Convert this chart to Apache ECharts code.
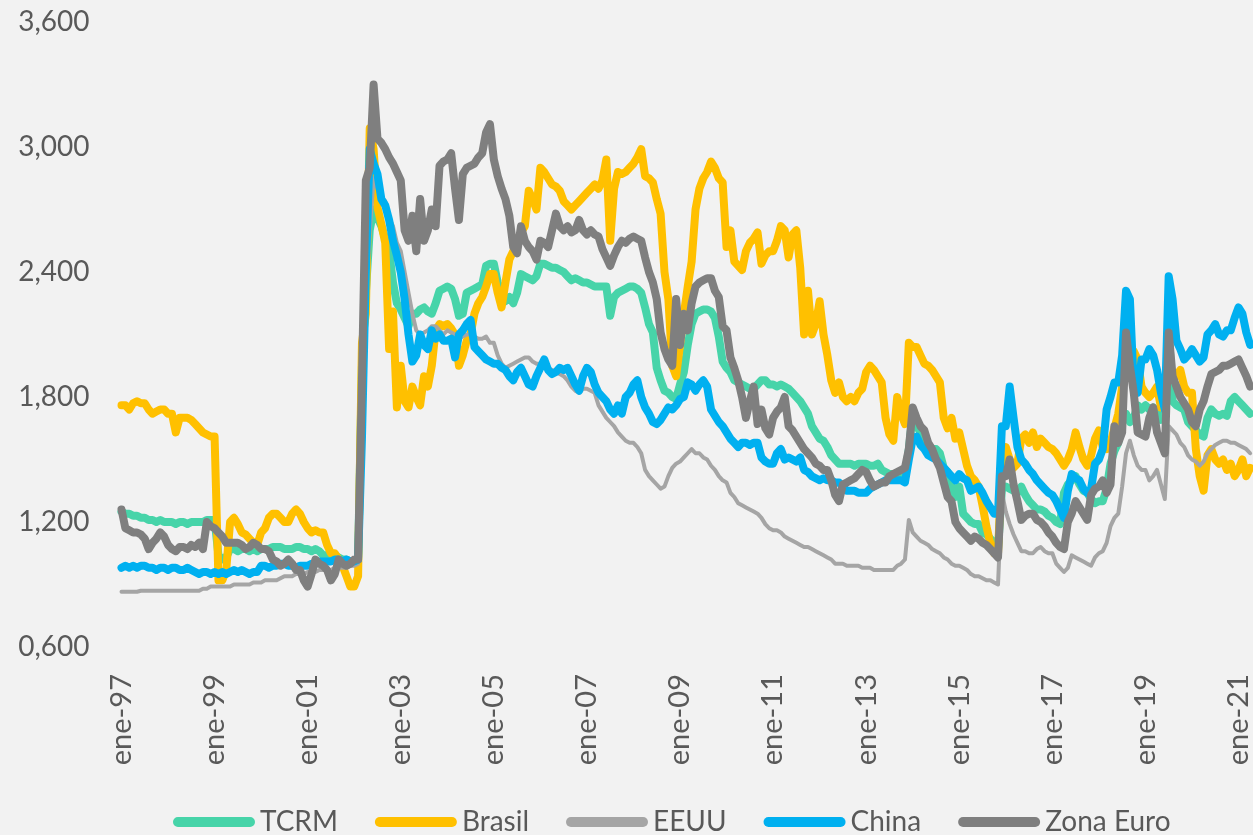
<!DOCTYPE html>
<html>
<head>
<meta charset="utf-8">
<script src="https://cdn.jsdelivr.net/npm/echarts@6/dist/echarts.min.js"></script>
<style>
html,body{margin:0;padding:0;background:#F2F2F2;}
#chart{width:1253px;height:835px;}
</style>
</head>
<body>
<div id="chart"></div>
<script>
// Months from ene-97 to abr-21 (monthly)
const monthNames = ['ene','feb','mar','abr','may','jun','jul','ago','sep','oct','nov','dic'];
const startYear = 1997;
const nMonths = 292;
const categories = [];
for (let i = 0; i < nMonths; i++) {
  const y = startYear + Math.floor(i / 12);
  categories.push(monthNames[i % 12] + '-' + String(y % 100).padStart(2, '0'));
}
const yTicks = [0.6, 1.2, 1.8, 2.4, 3.0, 3.6];

const seriesNames = ['TCRM', 'Brasil', 'EEUU', 'China', 'Zona Euro'];

const tcrm = [
1.25,1.24,1.24,1.23,1.23,1.22,1.22,1.21,1.21,1.20,1.21,1.20,
1.20,1.20,1.19,1.20,1.20,1.19,1.20,1.20,1.20,1.20,1.21,1.21,
1.21,1.04,1.02,1.03,1.07,1.07,1.06,1.07,1.07,1.06,1.07,1.06,
1.07,1.07,1.07,1.08,1.08,1.08,1.07,1.07,1.07,1.08,1.08,1.07,
1.07,1.06,1.07,1.06,1.04,1.04,1.03,1.04,1.03,1.02,1.02,1.01,
1.01,1.03,1.95,2.30,2.60,2.70,2.66,2.62,2.56,2.50,2.35,2.25,
2.22,2.18,2.14,2.20,2.20,2.22,2.23,2.21,2.20,2.25,2.31,2.32,
2.33,2.32,2.27,2.19,2.20,2.30,2.31,2.32,2.33,2.34,2.43,2.44,
2.44,2.35,2.28,2.26,2.28,2.25,2.30,2.39,2.38,2.37,2.36,2.38,
2.44,2.44,2.43,2.42,2.42,2.41,2.40,2.38,2.36,2.37,2.36,2.35,
2.35,2.34,2.33,2.33,2.33,2.33,2.19,2.28,2.30,2.31,2.32,2.33,
2.33,2.32,2.30,2.23,2.15,2.11,1.94,1.88,1.83,1.82,1.80,1.79,
1.86,1.92,2.05,2.15,2.20,2.21,2.22,2.22,2.21,2.18,2.09,1.97,
1.94,1.92,1.88,1.87,1.86,1.85,1.84,1.84,1.86,1.88,1.88,1.86,
1.86,1.85,1.86,1.85,1.84,1.82,1.80,1.78,1.75,1.72,1.66,1.63,
1.60,1.59,1.56,1.52,1.50,1.48,1.48,1.48,1.48,1.47,1.48,1.48,
1.48,1.47,1.47,1.48,1.45,1.44,1.43,1.43,1.43,1.42,1.42,1.55,
1.72,1.66,1.63,1.59,1.57,1.55,1.55,1.53,1.46,1.44,1.38,1.32,
1.37,1.24,1.22,1.20,1.19,1.19,1.15,1.14,1.12,1.10,1.07,1.36,
1.37,1.36,1.35,1.34,1.37,1.33,1.30,1.28,1.26,1.26,1.25,1.23,
1.22,1.20,1.19,1.34,1.38,1.40,1.42,1.38,1.35,1.34,1.31,1.29,
1.30,1.30,1.36,1.48,1.54,1.58,1.72,1.72,1.68,1.70,1.76,1.74,
1.76,1.74,1.75,1.72,1.69,1.75,2.14,1.78,1.76,1.75,1.74,1.68,
1.66,1.64,1.62,1.61,1.70,1.74,1.72,1.71,1.72,1.71,1.78,1.80,
1.78,1.76,1.74,1.72
];

const brasil = [
1.76,1.76,1.74,1.77,1.78,1.77,1.77,1.74,1.72,1.73,1.74,1.74,
1.72,1.72,1.63,1.70,1.70,1.70,1.69,1.67,1.65,1.63,1.62,1.61,
1.61,0.92,0.92,0.97,1.20,1.22,1.19,1.15,1.14,1.12,1.10,1.09,
1.15,1.17,1.22,1.24,1.24,1.22,1.20,1.20,1.24,1.26,1.24,1.20,
1.17,1.15,1.16,1.15,1.15,1.09,1.05,1.05,1.02,0.99,0.94,0.89,
0.89,0.94,2.06,2.20,3.09,2.99,2.71,2.63,2.54,2.03,2.21,1.75,
1.95,1.78,1.75,1.85,1.80,1.76,1.90,1.85,1.95,2.12,2.15,2.14,
2.15,2.13,2.10,1.95,2.00,2.07,2.10,2.20,2.25,2.28,2.33,2.39,
2.39,2.30,2.23,2.35,2.46,2.50,2.55,2.59,2.62,2.79,2.75,2.70,
2.90,2.88,2.85,2.82,2.81,2.79,2.74,2.72,2.70,2.72,2.74,2.76,
2.78,2.80,2.82,2.80,2.84,2.94,2.55,2.80,2.88,2.87,2.88,2.90,
2.92,2.95,2.99,2.86,2.85,2.83,2.75,2.68,2.40,2.27,1.95,1.90,
2.05,2.20,2.33,2.45,2.70,2.80,2.85,2.88,2.93,2.90,2.85,2.83,
2.52,2.60,2.45,2.43,2.41,2.50,2.54,2.56,2.59,2.44,2.48,2.50,
2.50,2.55,2.62,2.60,2.47,2.58,2.60,2.42,2.10,2.31,2.10,2.15,
2.26,2.10,2.00,1.88,1.82,1.87,1.80,1.78,1.80,1.78,1.82,1.84,
1.92,1.95,1.93,1.90,1.87,1.70,1.62,1.59,1.80,1.72,1.67,2.06,
2.04,2.04,2.00,1.96,1.95,1.93,1.90,1.87,1.70,1.65,1.70,1.60,
1.63,1.55,1.47,1.42,1.40,1.37,1.28,1.18,1.10,1.05,1.05,1.50,
1.56,1.50,1.46,1.48,1.60,1.62,1.58,1.63,1.56,1.60,1.58,1.56,
1.55,1.53,1.50,1.47,1.50,1.55,1.63,1.56,1.50,1.47,1.52,1.60,
1.64,1.56,1.55,1.58,1.65,1.72,1.85,1.95,1.98,2.02,1.98,1.85,
1.82,1.80,1.82,1.85,1.75,1.80,1.95,1.90,1.90,1.93,1.85,1.82,
1.82,1.55,1.42,1.35,1.52,1.55,1.50,1.48,1.50,1.45,1.48,1.42,
1.45,1.50,1.42,1.46
];

const eeuu = [
0.865,0.865,0.865,0.865,0.865,0.87,0.87,0.87,0.87,0.87,0.87,0.87,
0.87,0.87,0.87,0.87,0.87,0.87,0.87,0.87,0.87,0.88,0.88,0.89,
0.89,0.89,0.89,0.89,0.89,0.90,0.90,0.90,0.90,0.90,0.91,0.91,
0.91,0.92,0.92,0.92,0.92,0.93,0.94,0.94,0.94,0.95,0.95,0.95,
0.96,0.96,0.96,0.97,0.97,0.97,0.97,0.98,0.98,0.98,0.98,0.99,
0.99,1.00,1.90,2.30,2.60,2.85,2.80,2.76,2.74,2.66,2.62,2.54,
2.50,2.40,2.30,2.20,2.12,2.10,2.11,2.12,2.14,2.14,2.12,2.10,
2.12,2.11,2.10,2.08,2.09,2.10,2.10,2.09,2.08,2.08,2.09,2.06,
2.06,2.00,1.96,1.94,1.95,1.96,1.97,1.98,1.99,1.99,1.97,1.96,
1.96,1.95,1.94,1.93,1.92,1.91,1.90,1.88,1.85,1.83,1.82,1.84,
1.84,1.83,1.82,1.76,1.73,1.70,1.68,1.66,1.63,1.61,1.59,1.58,
1.58,1.56,1.53,1.45,1.42,1.40,1.38,1.36,1.37,1.42,1.46,1.48,
1.49,1.51,1.53,1.55,1.53,1.53,1.51,1.50,1.47,1.45,1.42,1.40,
1.39,1.34,1.32,1.29,1.28,1.27,1.26,1.25,1.24,1.22,1.19,1.17,
1.16,1.16,1.15,1.13,1.12,1.11,1.10,1.09,1.08,1.08,1.07,1.06,
1.05,1.04,1.03,1.02,1.00,1.00,1.00,0.99,0.99,0.99,0.99,0.98,
0.98,0.98,0.97,0.97,0.97,0.97,0.97,0.97,0.99,1.00,1.02,1.21,
1.15,1.13,1.11,1.10,1.09,1.07,1.06,1.05,1.03,1.02,1.00,0.99,
0.99,0.98,0.97,0.95,0.94,0.94,0.93,0.92,0.92,0.91,0.90,1.34,
1.25,1.19,1.14,1.10,1.06,1.06,1.05,1.05,1.07,1.08,1.06,1.05,
1.05,1.00,0.98,0.96,0.98,1.04,1.03,1.02,1.01,1.00,0.99,1.03,
1.05,1.06,1.10,1.18,1.22,1.24,1.37,1.53,1.59,1.52,1.47,1.45,
1.45,1.40,1.42,1.45,1.38,1.31,1.66,1.64,1.62,1.58,1.56,1.52,
1.50,1.49,1.47,1.49,1.53,1.55,1.57,1.58,1.59,1.59,1.58,1.58,
1.57,1.56,1.55,1.53
];

const china = [
0.98,0.99,0.98,0.99,0.98,0.99,0.99,0.98,0.98,0.97,0.98,0.98,
0.97,0.98,0.98,0.97,0.97,0.98,0.97,0.96,0.95,0.96,0.96,0.95,
0.96,0.95,0.96,0.95,0.96,0.97,0.96,0.97,0.96,0.95,0.96,0.96,
0.99,0.99,0.98,0.99,0.99,1.00,1.00,0.99,0.99,0.98,0.99,0.99,
0.99,1.00,1.00,1.01,1.01,1.01,1.01,1.02,1.02,1.01,1.02,1.01,
1.01,1.02,1.60,2.40,2.99,2.92,2.87,2.75,2.72,2.65,2.55,2.48,
2.40,2.27,2.10,1.97,2.00,2.10,2.05,2.03,2.12,2.08,2.10,2.07,
2.07,2.08,1.99,2.10,2.12,2.15,2.17,2.04,2.02,2.00,1.98,1.97,
1.96,1.96,1.94,1.93,1.90,1.88,1.92,1.94,1.90,1.86,1.85,1.90,
1.94,1.98,1.93,1.91,1.92,1.94,1.93,1.94,1.90,1.86,1.83,1.90,
1.94,1.92,1.86,1.82,1.80,1.78,1.74,1.72,1.76,1.72,1.80,1.82,
1.86,1.88,1.80,1.75,1.72,1.68,1.67,1.69,1.72,1.75,1.74,1.76,
1.79,1.80,1.87,1.86,1.83,1.86,1.88,1.85,1.74,1.71,1.68,1.66,
1.63,1.60,1.58,1.56,1.58,1.58,1.57,1.58,1.58,1.51,1.49,1.48,
1.48,1.53,1.55,1.50,1.51,1.50,1.49,1.51,1.45,1.44,1.42,1.41,
1.40,1.41,1.40,1.40,1.39,1.39,1.37,1.35,1.35,1.35,1.34,1.34,
1.34,1.36,1.37,1.38,1.39,1.40,1.40,1.40,1.40,1.40,1.39,1.50,
1.60,1.61,1.57,1.55,1.52,1.51,1.50,1.48,1.46,1.44,1.42,1.40,
1.43,1.41,1.40,1.35,1.36,1.37,1.34,1.30,1.27,1.24,1.24,1.66,
1.66,1.85,1.70,1.56,1.50,1.48,1.45,1.43,1.40,1.38,1.36,1.34,
1.33,1.30,1.26,1.22,1.35,1.43,1.41,1.40,1.36,1.34,1.36,1.48,
1.50,1.55,1.74,1.80,1.87,1.87,2.00,2.31,2.27,1.85,1.82,1.98,
1.98,2.03,2.00,1.93,1.82,1.74,2.38,2.27,2.07,2.03,1.98,2.00,
2.03,2.00,1.97,1.99,2.10,2.12,2.15,2.10,2.09,2.12,2.12,2.18,
2.23,2.20,2.11,2.05
];

const zonaEuro = [
1.26,1.17,1.16,1.15,1.15,1.14,1.12,1.07,1.10,1.12,1.15,1.13,
1.09,1.07,1.06,1.08,1.08,1.07,1.09,1.08,1.10,1.07,1.20,1.18,
1.17,1.15,1.13,1.10,1.10,1.10,1.10,1.09,1.07,1.08,1.10,1.09,
1.07,1.07,1.06,1.02,1.01,0.99,1.00,1.02,1.00,0.97,0.97,0.92,
0.89,0.95,1.02,1.00,0.99,0.97,0.92,0.95,1.02,1.00,0.99,1.00,
1.02,1.02,1.88,2.84,2.90,3.30,3.04,3.02,2.99,2.95,2.92,2.88,
2.84,2.60,2.55,2.67,2.50,2.75,2.55,2.60,2.70,2.62,2.91,2.93,
2.94,2.97,2.80,2.65,2.87,2.90,2.91,2.92,2.95,2.97,3.07,3.11,
2.94,2.86,2.80,2.75,2.67,2.52,2.49,2.62,2.55,2.52,2.50,2.46,
2.55,2.54,2.52,2.60,2.68,2.62,2.60,2.62,2.59,2.60,2.65,2.60,
2.58,2.60,2.58,2.57,2.51,2.47,2.43,2.48,2.52,2.55,2.54,2.56,
2.57,2.56,2.55,2.47,2.40,2.35,2.27,2.11,2.03,1.98,1.95,2.27,
2.05,2.20,2.12,2.25,2.33,2.35,2.36,2.37,2.37,2.31,2.28,2.14,
2.12,1.99,1.94,1.88,1.80,1.70,1.78,1.85,1.67,1.74,1.65,1.62,
1.70,1.73,1.75,1.80,1.66,1.64,1.61,1.58,1.55,1.53,1.51,1.48,
1.47,1.45,1.45,1.40,1.33,1.30,1.38,1.39,1.40,1.41,1.43,1.45,
1.44,1.40,1.37,1.38,1.39,1.39,1.42,1.43,1.44,1.45,1.46,1.55,
1.75,1.70,1.66,1.64,1.58,1.55,1.50,1.46,1.39,1.32,1.30,1.20,
1.17,1.15,1.13,1.11,1.13,1.12,1.10,1.09,1.07,1.05,1.03,1.42,
1.42,1.50,1.38,1.30,1.21,1.23,1.24,1.24,1.21,1.20,1.18,1.15,
1.13,1.10,1.08,1.07,1.20,1.24,1.30,1.27,1.24,1.21,1.33,1.36,
1.37,1.40,1.34,1.38,1.66,1.58,1.63,2.11,1.95,1.82,1.63,1.62,
1.61,1.70,1.75,1.63,1.58,1.53,2.11,1.90,1.85,1.80,1.77,1.74,
1.68,1.66,1.74,1.78,1.85,1.91,1.92,1.93,1.95,1.95,1.96,1.97,
1.98,1.94,1.90,1.85
];

const colors = ['#47D4A9', '#FFC000', '#A5A5A5', '#00B0F0', '#7F7F7F'];
const widths = [8, 8, 4, 8, 8];
const seriesData = [tcrm, brasil, eeuu, china, zonaEuro];

const textColor = '#595959';
const fontFamily = 'Lato, "Open Sans", sans-serif';
const capsule = 'path://M5,0 L78,0 A5,5 0 0 1 78,10 L5,10 A5,5 0 0 1 5,0 Z';

const chart = echarts.init(document.getElementById('chart'), null, {renderer: 'canvas'});
chart.setOption({
  backgroundColor: '#F2F2F2',
  animation: false,
  color: colors,
  grid: {left: 121.5, right: 0, top: 22, bottom: 188, containLabel: false},
  legend: {
    left: 168,
    top: 803,
    itemWidth: 82,
    itemHeight: 10,
    itemGap: 37,
    icon: capsule,
    textStyle: {color: textColor, fontSize: 28, fontFamily: fontFamily},
    data: seriesNames
  },
  xAxis: {
    type: 'category',
    data: categories,
    boundaryGap: false,
    axisLine: {show: false},
    axisTick: {show: false},
    splitLine: {show: false},
    axisLabel: {
      rotate: 90,
      margin: 27,
      color: textColor,
      fontSize: 29,
      fontFamily: fontFamily,
      interval: function (idx) { return idx % 24 === 0; }
    }
  },
  yAxis: {
    type: 'value',
    min: yTicks[0],
    max: yTicks[yTicks.length - 1],
    interval: 0.6,
    axisLine: {show: false},
    axisTick: {show: false},
    splitLine: {show: false},
    axisLabel: {
      margin: 32,
      color: textColor,
      fontSize: 28,
      fontFamily: fontFamily,
      formatter: function (v) { return v.toFixed(3).replace('.', ','); }
    }
  },
  series: seriesNames.map(function (name, i) {
    return {
      name: name,
      type: 'line',
      data: seriesData[i],
      showSymbol: false,
      symbol: 'none',
      clip: false,
      lineStyle: {width: widths[i], color: colors[i], cap: 'round', join: 'round'},
      itemStyle: {color: colors[i]}
    };
  })
});
</script>
</body>
</html>
